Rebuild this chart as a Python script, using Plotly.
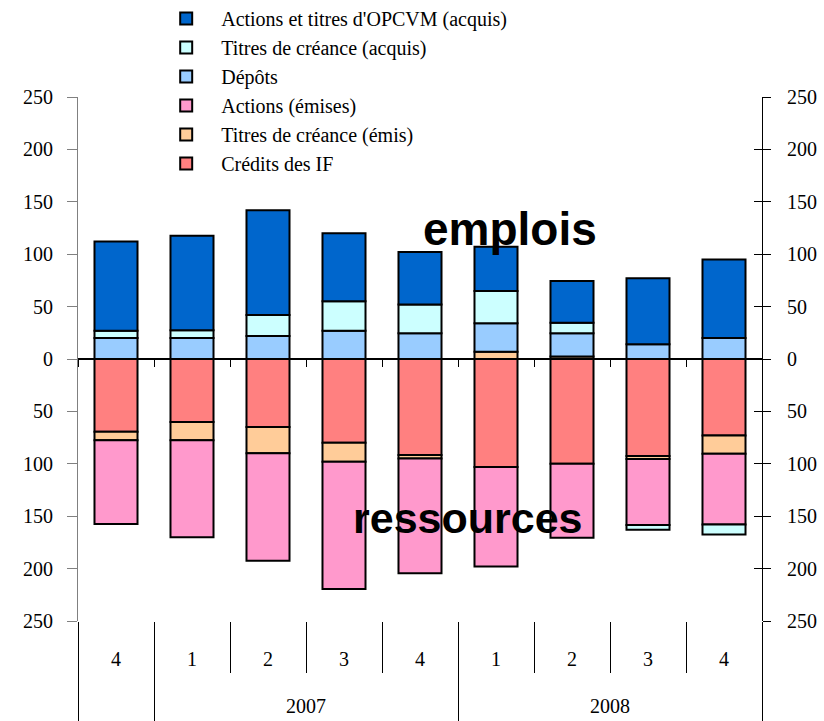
import plotly.graph_objects as go

# Categories (hierarchical: year / quarter)
years = ["2006", "2007", "2007", "2007", "2007", "2008", "2008", "2008", "2008"]
quarters = ["4", "1", "2", "3", "4", "1", "2", "3", "4"]
year_labels = ["2007", "2008"]

# Emplois (uses) - positive
actions_acquis = [85, 90, 100, 65, 50, 42, 40, 63, 75]
titres_acquis = [7, 7.5, 20, 28, 27.5, 31, 10, -4.5, -9.5]
depots = [20, 20, 22, 27, 24.5, 27, 22, 14, 20]

# Ressources (sources) - negative
credits_if = [-69.5, -60, -65, -80, -91.5, -103, -100, -92.5, -73]
titres_emis = [-8, -17.5, -25, -18, -3.5, 7, 2.5, -3, -17.5]
actions_emises = [-80, -92.5, -102.5, -121.5, -109.5, -95, -70.5, -63, -67.5]

tick_vals = [-250, -200, -150, -100, -50, 0, 50, 100, 150, 200, 250]
tick_text = ["250", "200", "150", "100", "50", "0", "50", "100", "150", "200", "250"]

series = [
    ("Crédits des IF", credits_if, "#FF8080"),
    ("Titres de créance (émis)", titres_emis, "#FFCC99"),
    ("Actions (émises)", actions_emises, "#FF99CC"),
    ("Dépôts", depots, "#99CCFF"),
    ("Titres de créance (acquis)", titres_acquis, "#CCFFFF"),
    ("Actions et titres d'OPCVM (acquis)", actions_acquis, "#0066CC"),
]

cats = ["%s T%s" % (y, q) for y, q in zip(years, quarters)]
n = len(cats)

fig = go.Figure()
for i, (name, vals, col) in enumerate(series):
    fig.add_trace(go.Bar(
        x=cats, y=vals, name=name, legendrank=len(series) - i,
        marker=dict(color=col, line=dict(color="black", width=2)),
    ))

# year group positions / boundaries in category index units
groups = []
for i, y in enumerate(years):
    if not groups or groups[-1][0] != y:
        groups.append([y, i, i])
    else:
        groups[-1][2] = i
outer_bounds = sorted(set([g[1] - 0.5 for g in groups] + [g[2] + 0.5 for g in groups]))
inner_bounds = [i + 0.5 for i in range(n - 1) if years[i] == years[i + 1]]
year_pos = [(g[1] + g[2]) / 2 for g in groups if g[0] in year_labels]

# helper traces so that the overlay axes are drawn
for ax in ["x2", "x3", "x4", "x5"]:
    fig.add_trace(go.Scatter(x=[0], y=[None], xaxis=ax, yaxis="y", mode="markers",
                             showlegend=False, hoverinfo="skip"))
for ax in ["y2", "y3"]:
    fig.add_trace(go.Scatter(x=[cats[0]], y=[None], xaxis="x", yaxis=ax, mode="markers",
                             showlegend=False, hoverinfo="skip"))

serif = "Liberation Serif"
yr = [-250, 250]
xr = [-0.5, n - 0.5]
tf = dict(family=serif, size=20, color="black")
hidden = dict(showgrid=False, zeroline=False, showline=False)

fig.update_layout(
    width=824, height=721,
    margin=dict(l=78, r=62, t=97, b=100, autoexpand=False),
    barmode="relative", bargap=0.434,
    plot_bgcolor="white", paper_bgcolor="white",
    font=dict(family=serif, size=20, color="black"),
    legend=dict(x=0.107, y=1.187, xanchor="left", yanchor="top",
                traceorder="normal",
                font=dict(family=serif, size=20, color="black"),
                itemwidth=60, bgcolor="rgba(0,0,0,0)"),
    # main category axis: quarter labels
    xaxis=dict(type="category", range=xr, tickvals=cats, ticktext=quarters,
               ticks="", ticklabelstandoff=24, tickfont=tf, **hidden),
    # ticks on the zero line at category boundaries
    xaxis2=dict(overlaying="x", anchor="free", position=0.5, type="linear", range=xr,
                showline=True, linecolor="black", linewidth=2, ticks="outside",
                tickvals=outer_bounds + inner_bounds, ticklen=7, tickcolor="black",
                tickwidth=1, showticklabels=False, showgrid=False, zeroline=False),
    # short separators between quarters
    xaxis3=dict(overlaying="x", anchor="y", type="linear", range=xr, tickvals=inner_bounds,
                ticks="outside", ticklen=51, tickcolor="black", tickwidth=1,
                showticklabels=False, **hidden),
    # long dividers between years
    xaxis4=dict(overlaying="x", anchor="y", type="linear", range=xr, tickvals=outer_bounds,
                ticks="outside", ticklen=100, tickcolor="black", tickwidth=1,
                showticklabels=False, **hidden),
    # year labels
    xaxis5=dict(overlaying="x", anchor="y", type="linear", range=xr, tickvals=year_pos,
                ticktext=year_labels, ticks="", ticklabelstandoff=71, tickfont=tf, **hidden),
    yaxis=dict(range=yr, tickvals=tick_vals, ticktext=tick_text, ticks="outside",
               ticklen=10, tickcolor="#808080", showline=True, linecolor="#808080",
               linewidth=1, showgrid=False, zeroline=False, ticklabelstandoff=10,
               tickfont=tf),
    yaxis2=dict(overlaying="y", side="right", anchor="x", range=yr, tickvals=tick_vals,
                ticktext=tick_text, ticks="outside", ticklen=8, tickcolor="black",
                showline=True, linecolor="black", linewidth=1, showgrid=False,
                zeroline=False, ticklabelstandoff=12, tickfont=tf),
    yaxis3=dict(overlaying="y", side="right", anchor="x", range=yr, tickvals=tick_vals,
                ticks="inside", ticklen=8, tickcolor="black", showticklabels=False,
                **hidden),
    annotations=[
        dict(text="<b>emplois</b>", x=0.632, xref="paper", y=124, yref="y",
             showarrow=False, font=dict(family="Liberation Sans", size=46, color="black")),
        dict(text="<b>ressources</b>", x=0.570, xref="paper", y=-152, yref="y",
             showarrow=False, font=dict(family="Liberation Sans", size=43, color="black")),
    ],
)

fig.write_html("out.html", config={"displayModeBar": False},
               post_script="document.body.style.margin='0px';")
